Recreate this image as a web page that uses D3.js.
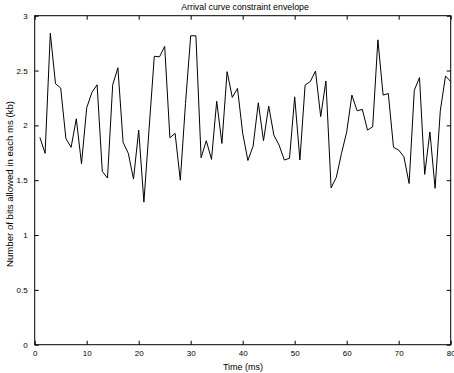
<!DOCTYPE html>
<html>
<head>
<meta charset="utf-8">
<script src="https://cdn.jsdelivr.net/npm/d3@7"></script>
<style>
  body { margin: 0; background: #fff; }
  svg text { font-family: "Liberation Sans", Arial, sans-serif; fill: #000; }
</style>
</head>
<body>
<svg id="chart" width="454" height="373"></svg>
<script>
// time (ms) for each sample
var times = d3.range(1, 81);

// bits allowed in each ms (kb)
var bitsAllowed = [
  1.89, 1.745, 2.84, 2.38, 2.34, 1.88, 1.80, 2.06, 1.65, 2.16,
  2.30, 2.37, 1.58, 1.52, 2.37, 2.525, 1.845, 1.745, 1.51, 1.957,
  1.30, 1.97, 2.63, 2.625, 2.72, 1.887, 1.927, 1.50, 2.20, 2.817,
  2.817, 1.705, 1.86, 1.69, 2.22, 1.835, 2.49, 2.255, 2.337, 1.927,
  1.68, 1.81, 2.206, 1.86, 2.176, 1.91, 1.82, 1.684, 1.70, 2.26,
  1.684, 2.367, 2.40, 2.495, 2.08, 2.404, 1.43, 1.526, 1.745, 1.94,
  2.276, 2.133, 2.146, 1.957, 1.987, 2.78, 2.276, 2.29, 1.80, 1.775,
  1.714, 1.47, 2.32, 2.435, 1.553, 1.94, 1.426, 2.133, 2.45, 2.40
];

var xTicks = [0, 10, 20, 30, 40, 50, 60, 70, 80];
var yTicks = [0, 0.5, 1, 1.5, 2, 2.5, 3];

var svg = d3.select("#chart");

var margin = {top: 15.7, right: 3.3, bottom: 28.3, left: 34.7},
    width = 454 - margin.left - margin.right,
    height = 373 - margin.top - margin.bottom;

var x = d3.scaleLinear().domain([0, 80]).range([0, width]);
var y = d3.scaleLinear().domain([0, 3]).range([height, 0]);

var g = svg.append("g")
    .attr("transform", "translate(" + margin.left + "," + margin.top + ")");

var fmt = function(d) { return String(d); };

// bottom axis
g.append("g")
    .attr("transform", "translate(0," + height + ")")
    .call(d3.axisBottom(x).tickValues(xTicks).tickFormat(fmt).tickSizeInner(-4).tickSizeOuter(0).tickPadding(6))
    .call(function(a) { a.select(".domain").remove(); });

// top axis (ticks only)
g.append("g")
    .call(d3.axisTop(x).tickValues(xTicks).tickFormat("").tickSizeInner(-4).tickSizeOuter(0))
    .call(function(a) { a.select(".domain").remove(); });

// left axis
g.append("g")
    .call(d3.axisLeft(y).tickValues(yTicks).tickFormat(fmt).tickSizeInner(-4).tickSizeOuter(0).tickPadding(7))
    .call(function(a) { a.select(".domain").remove(); });

// right axis (ticks only)
g.append("g")
    .attr("transform", "translate(" + width + ",0)")
    .call(d3.axisRight(y).tickValues(yTicks).tickFormat("").tickSizeInner(-4).tickSizeOuter(0))
    .call(function(a) { a.select(".domain").remove(); });

g.selectAll(".tick text").attr("font-size", 8).attr("font-family", "Liberation Sans, Arial, sans-serif");
g.selectAll(".tick line").attr("stroke", "#000");

// box
g.append("rect")
    .attr("width", width)
    .attr("height", height)
    .attr("fill", "none")
    .attr("stroke", "#000")
    .attr("stroke-width", 1);

var line = d3.line()
    .x(function(d, i) { return x(times[i]); })
    .y(function(d) { return y(d); });

g.append("path")
    .datum(bitsAllowed)
    .attr("fill", "none")
    .attr("stroke", "#000")
    .attr("stroke-width", 1)
    .attr("stroke-linejoin", "miter")
    .attr("d", line);

// title
svg.append("text")
    .attr("x", 245)
    .attr("y", 10)
    .attr("text-anchor", "middle")
    .attr("font-size", 8.8)
    .text("Arrival curve constraint envelope");

// x label
svg.append("text")
    .attr("x", 243)
    .attr("y", 370)
    .attr("text-anchor", "middle")
    .attr("font-size", 9)
    .text("Time (ms)");

// y label
svg.append("text")
    .attr("transform", "translate(13,184) rotate(-90)")
    .attr("text-anchor", "middle")
    .attr("font-size", 9.6)
    .text("Number of bits allowed in each ms (kb)");
</script>
</body>
</html>
